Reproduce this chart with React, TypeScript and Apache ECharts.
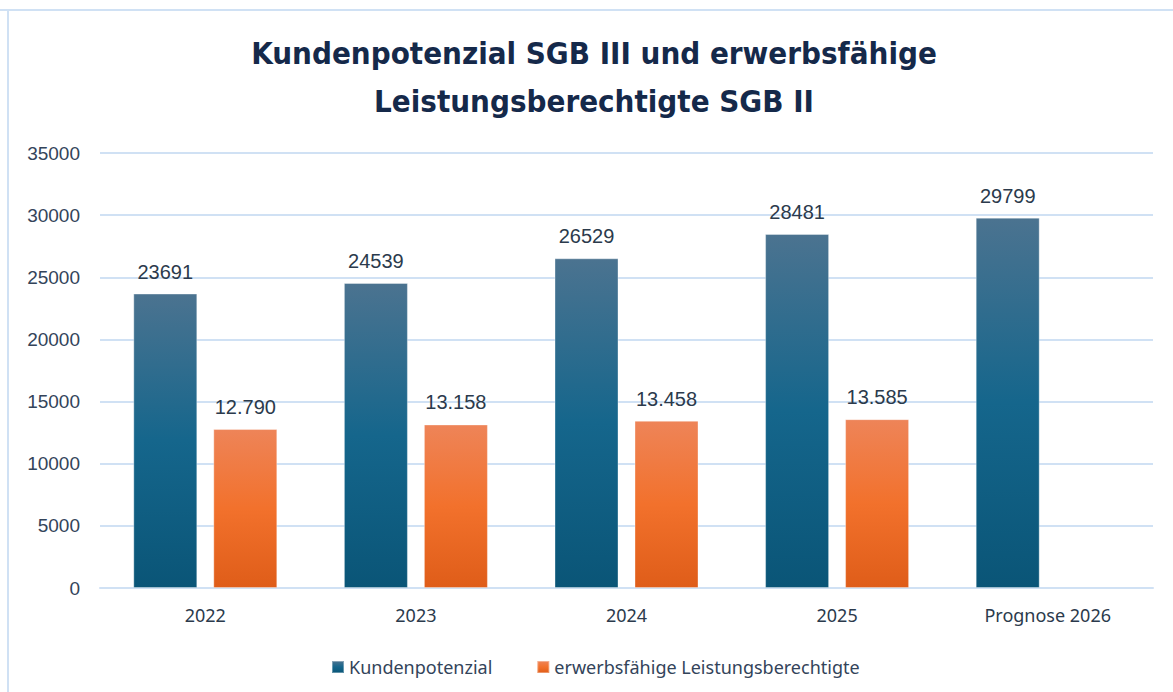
import React, { useEffect, useRef } from "react";
import * as echarts from "echarts";

const categories = ["2022", "2023", "2024", "2025", "Prognose 2026"];
const kundenpotenzial = [23691, 24539, 26529, 28481, 29799];
const erwerbsfaehige: (number | null)[] = [12790, 13158, 13458, 13585, null];
const yTicks = { min: 0, max: 35000, interval: 5000 };

const deThousands = (v: number) =>
  String(Math.round(v)).replace(/\B(?=(\d{3})+(?!\d))/g, ".");

export default function App() {
  const ref = useRef<HTMLDivElement>(null);
  useEffect(() => {
    document.body.style.margin = "0";
    const chart = echarts.init(ref.current!, null, { renderer: "svg" });
    const labelStyle = {
      show: true,
      position: "top" as const,
      distance: 12,
      fontFamily: "Liberation Sans, Arial, sans-serif",
      fontSize: 20,
      color: "#2b3a4c",
    };
    chart.setOption({
      animation: false,
      backgroundColor: "#ffffff",
      title: {
        text: "Kundenpotenzial SGB III und erwerbsfähige\nLeistungsberechtigte SGB II",
        left: 589,
        top: 24,
        textAlign: "center",
        textStyle: {
          fontFamily: "Liberation Sans Narrow, DejaVu Sans Condensed, sans-serif",
          fontWeight: "bold",
          fontSize: 31,
          lineHeight: 48,
          color: "#15294a",
        },
      },
      graphic: [
        {
          type: "line",
          shape: { x1: 0, y1: 10, x2: 1173, y2: 10 },
          style: { stroke: "#d0e1f4", lineWidth: 2 },
        },
        {
          type: "line",
          shape: { x1: 8, y1: 10, x2: 8, y2: 692 },
          style: { stroke: "#d0e1f4", lineWidth: 2 },
        },
      ],
      legend: {
        left: 326,
        top: 653,
        itemGap: 44,
        itemWidth: 12,
        itemHeight: 12,
        icon: "rect",
        textStyle: {
          fontFamily: "Noto Sans, sans-serif",
          fontSize: 18,
          color: "#33445a",
        },
        data: ["Kundenpotenzial", "erwerbsfähige Leistungsberechtigte"],
      },
      grid: { left: 100, right: 20, top: 153, bottom: 104 },
      xAxis: {
        type: "category",
        data: categories,
        axisLine: { lineStyle: { color: "#d0e1f4", width: 2 } },
        axisTick: { show: false },
        axisLabel: {
          margin: 18,
          fontFamily: "Noto Sans, sans-serif",
          fontSize: 18,
          color: "#2b3a4c",
        },
      },
      yAxis: {
        type: "value",
        min: yTicks.min,
        max: yTicks.max,
        interval: yTicks.interval,
        axisLine: { show: false },
        axisTick: { show: false },
        splitLine: { lineStyle: { color: "#d0e1f4", width: 2 } },
        axisLabel: {
          margin: 20,
          fontFamily: "Liberation Sans, Arial, sans-serif",
          fontSize: 19,
          color: "#33445a",
          formatter: (v: number) => String(v),
        },
      },
      series: [
        {
          name: "Kundenpotenzial",
          type: "bar",
          data: kundenpotenzial,
          barWidth: 64,
          barGap: "25%",
          itemStyle: {
            color: new echarts.graphic.LinearGradient(0, 0, 0, 1, [
              { offset: 0, color: "#4b7390" },
              { offset: 0.5, color: "#15668c" },
              { offset: 1, color: "#0a5577" },
            ]),
            borderColor: "rgba(255,255,255,0.35)",
            borderWidth: 1,
          },
          label: { ...labelStyle, formatter: (p: any) => String(p.value) },
        },
        {
          name: "erwerbsfähige Leistungsberechtigte",
          type: "bar",
          data: erwerbsfaehige,
          barWidth: 64,
          barGap: "25%",
          itemStyle: {
            color: new echarts.graphic.LinearGradient(0, 0, 0, 1, [
              { offset: 0, color: "#ee8458" },
              { offset: 0.5, color: "#f2712c" },
              { offset: 1, color: "#df5d19" },
            ]),
            borderColor: "rgba(255,255,255,0.35)",
            borderWidth: 1,
          },
          label: {
            ...labelStyle,
            formatter: (p: any) => (p.value == null ? "" : deThousands(p.value)),
          },
        },
      ],
    });
    return () => chart.dispose();
  }, []);
  return <div ref={ref} style={{ width: 1173, height: 692 }} />;
}
